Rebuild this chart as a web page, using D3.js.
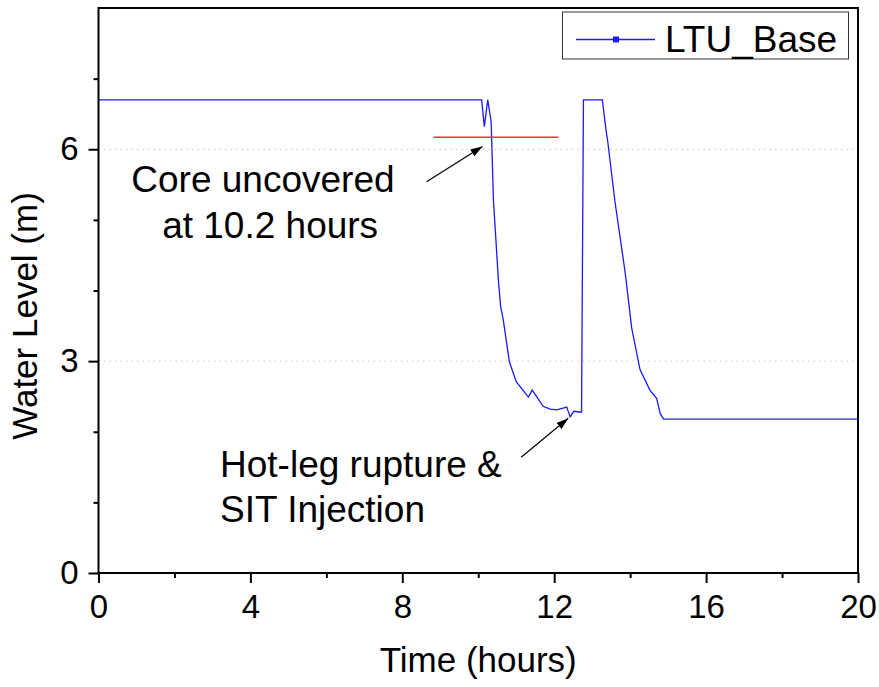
<!DOCTYPE html>
<html>
<head>
<meta charset="utf-8">
<script src="https://cdn.jsdelivr.net/npm/d3@7"></script>
<style>
  body { margin: 0; background: #fff; }
  text { font-family: "Liberation Sans", Arial, sans-serif; fill: #000; }
</style>
</head>
<body>
<div id="chart"></div>
<script>
// data
const timeHours = [0, 10.09, 10.16, 10.25, 10.34, 10.40, 10.53, 10.59, 10.66, 10.82, 11.0, 11.32, 11.42, 11.71, 11.89, 12.07, 12.33, 12.42, 12.52, 12.66, 12.72, 12.77, 13.27, 13.31, 13.37, 13.41, 13.60, 13.87, 14.04, 14.26, 14.52, 14.70, 14.79, 14.88, 20];
const waterLevel = [6.70, 6.70, 6.32, 6.70, 6.39, 5.28, 4.15, 3.77, 3.58, 2.99, 2.71, 2.49, 2.59, 2.36, 2.32, 2.31, 2.35, 2.21, 2.29, 2.28, 2.28, 6.70, 6.70, 6.51, 6.25, 6.11, 5.26, 4.25, 3.47, 2.88, 2.59, 2.47, 2.26, 2.18, 2.18];

const seriesName = 'LTU_Base';
const xMajorTicks = [0, 4, 8, 12, 16, 20];
const xMinorTicks = [2, 6, 10, 14, 18];
const yMajorTicks = [0, 3, 6];
const yMinorTicks = [1, 2, 4, 5, 7];

// core uncovered marker line (red)
const coreX = [8.82, 12.11];
const coreY = 6.17;

// annotations (data coords)
const arrows = [
  { from: [8.64, 5.54], to: [10.11, 6.04] },
  { from: [11.13, 1.64], to: [12.37, 2.19] }
];
const notes = [
  { x: 4.33, y: 5.39, text: 'Core uncovered', anchor: 'middle' },
  { x: 4.52, y: 4.74, text: 'at 10.2 hours', anchor: 'middle' },
  { x: 3.20, y: 1.36, text: 'Hot-leg rupture &', anchor: 'start' },
  { x: 3.20, y: 0.72, text: 'SIT Injection', anchor: 'start' }
];

const width = 879, height = 687;
const mLeft = 98.5, mRight = 858, mTop = 8, mBottom = 573;

const svg = d3.select('#chart').append('svg')
  .attr('width', width).attr('height', height);

const x = d3.scaleLinear().domain([0, 20]).range([mLeft, mRight]);
const y = d3.scaleLinear().domain([0, 8]).range([mBottom, mTop]);

// dotted grid at major y ticks
svg.append('g').selectAll('line')
  .data(yMajorTicks.filter(d => d > 0))
  .join('line')
  .attr('x1', mLeft).attr('x2', mRight)
  .attr('y1', d => y(d)).attr('y2', d => y(d))
  .attr('stroke', '#c8c8c8').attr('stroke-width', 1)
  .attr('stroke-dasharray', '1.5,4');

// data line
const line = d3.line().x((d, i) => x(timeHours[i])).y(d => y(d));
svg.append('path')
  .datum(waterLevel)
  .attr('d', line)
  .attr('fill', 'none')
  .attr('stroke', '#1a1aff')
  .attr('stroke-width', 1.3);

// red line
svg.append('line')
  .attr('x1', x(coreX[0])).attr('x2', x(coreX[1]))
  .attr('y1', y(coreY)).attr('y2', y(coreY))
  .attr('stroke', '#ee3333').attr('stroke-width', 1.5);

// arrows
svg.append('defs').append('marker')
  .attr('id', 'head')
  .attr('viewBox', '0 0 12 8')
  .attr('refX', 12).attr('refY', 4)
  .attr('markerWidth', 12).attr('markerHeight', 8)
  .attr('markerUnits', 'userSpaceOnUse')
  .attr('orient', 'auto')
  .append('path').attr('d', 'M0,0 L12,4 L0,8 Z').attr('fill', '#000');

svg.append('g').selectAll('line')
  .data(arrows)
  .join('line')
  .attr('x1', d => x(d.from[0])).attr('y1', d => y(d.from[1]))
  .attr('x2', d => x(d.to[0])).attr('y2', d => y(d.to[1]))
  .attr('stroke', '#000').attr('stroke-width', 1.2)
  .attr('marker-end', 'url(#head)');

svg.append('g').selectAll('text')
  .data(notes)
  .join('text')
  .attr('x', d => x(d.x)).attr('y', d => y(d.y))
  .attr('text-anchor', d => d.anchor)
  .style('font-size', '37px')
  .text(d => d.text);

// axes
const xMinor = d3.axisBottom(x).tickValues(xMinorTicks).tickSize(5).tickSizeOuter(0).tickFormat('');
const xMajor = d3.axisBottom(x).tickValues(xMajorTicks).tickSize(10).tickSizeOuter(0).tickPadding(12);
const yMinor = d3.axisLeft(y).tickValues(yMinorTicks).tickSize(5).tickSizeOuter(0).tickFormat('');
const yMajor = d3.axisLeft(y).tickValues(yMajorTicks).tickSize(10).tickSizeOuter(0).tickPadding(10);

[xMinor, xMajor].forEach(ax => {
  svg.append('g').attr('transform', `translate(0,${mBottom})`).call(ax)
    .call(g => g.select('.domain').remove())
    .call(g => g.selectAll('line').attr('stroke-width', 2))
    .selectAll('text').style('font-size', '33px').attr('font-family', null);
});
[yMinor, yMajor].forEach(ax => {
  svg.append('g').attr('transform', `translate(${mLeft},0)`).call(ax)
    .call(g => g.select('.domain').remove())
    .call(g => g.selectAll('line').attr('stroke-width', 2))
    .selectAll('text').style('font-size', '33px').attr('font-family', null);
});

// frame
svg.append('rect')
  .attr('x', mLeft).attr('y', mTop)
  .attr('width', mRight - mLeft).attr('height', mBottom - mTop)
  .attr('fill', 'none').attr('stroke', '#000').attr('stroke-width', 2);

// axis titles
svg.append('text')
  .attr('x', (mLeft + mRight) / 2).attr('y', 672)
  .attr('text-anchor', 'middle')
  .style('font-size', '35px')
  .text('Time (hours)');

svg.append('text')
  .attr('transform', 'rotate(-90)')
  .attr('x', -316).attr('y', 37)
  .attr('text-anchor', 'middle')
  .style('font-size', '35px')
  .text('Water Level (m)');

// legend
const lg = svg.append('g');
lg.append('rect')
  .attr('x', 562.5).attr('y', 12)
  .attr('width', 286).attr('height', 47)
  .attr('fill', '#fff').attr('stroke', '#333').attr('stroke-width', 1);
lg.append('line')
  .attr('x1', 576).attr('x2', 655).attr('y1', 39.5).attr('y2', 39.5)
  .attr('stroke', '#1a1aff').attr('stroke-width', 1.3);
lg.append('rect')
  .attr('x', 613).attr('y', 36.5).attr('width', 6).attr('height', 6)
  .attr('fill', '#1a1aff');
lg.append('text')
  .attr('x', 665).attr('y', 52)
  .style('font-size', '37px')
  .text(seriesName);
</script>
</body>
</html>
